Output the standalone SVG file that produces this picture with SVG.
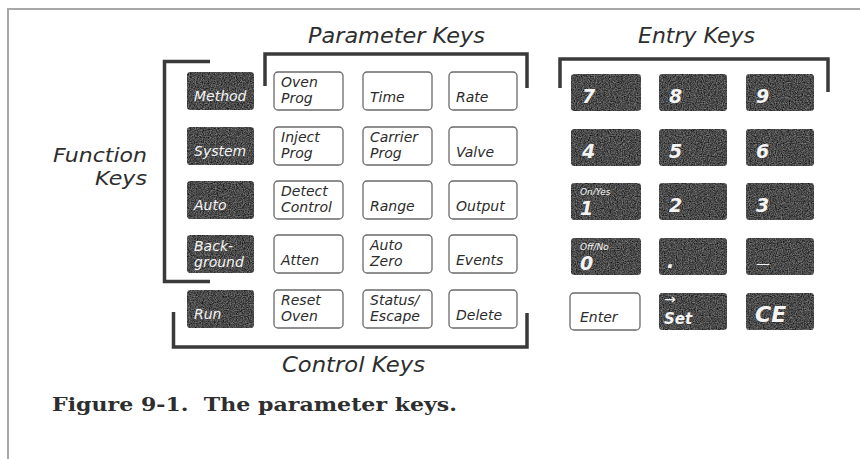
<svg xmlns="http://www.w3.org/2000/svg" width="860" height="459" viewBox="0 0 860 459">
<defs>
<filter id="grain" x="0" y="0" width="1" height="1" color-interpolation-filters="sRGB">
<feTurbulence type="fractalNoise" baseFrequency="0.85" numOctaves="3" seed="7" result="t"/>
<feColorMatrix in="t" type="matrix" values="0 0 0 1.3 -0.05  0 0 0 1.3 -0.05  0 0 0 1.3 -0.05  0 0 0 0 1" result="g"/>
<feBlend in="SourceGraphic" in2="g" mode="multiply" result="b"/>
<feComposite in="b" in2="SourceGraphic" operator="in"/>
</filter>
<style>
.dk{fill:#7c7c7c;filter:url(#grain)}
.lk{fill:#fff;stroke:#6a6a6a;stroke-width:1.3}
.kl{font-family:"DejaVu Sans",sans-serif;font-style:oblique;font-size:14px}
.w{fill:#f4f4f4}
.b{fill:#2b2b2b}
.dig{font-weight:bold;font-size:19px}
.sm{font-size:9px}
.big{font-weight:bold;font-size:22px}
.arr{font-size:14px}
.bold{font-weight:bold;font-size:15px}
.title{font-family:"DejaVu Sans",sans-serif;font-style:oblique;font-size:21.5px;fill:#2e2e2e}
.fk{font-size:20px}
.br{fill:none;stroke:#3a3a3a;stroke-width:3.5}
.frame{fill:none;stroke:#a8a8a8;stroke-width:2}
.cap{font-family:"DejaVu Serif",serif;font-weight:bold;font-size:18px;fill:#2e2e2e}
</style>
</defs>
<rect width="860" height="459" fill="#fff"/>
<path class="frame" d="M8,459 V9 H860"/>

<g id="titles">
<text class="title" x="308" y="43" textLength="177" lengthAdjust="spacingAndGlyphs">Parameter Keys</text>
<text class="title" x="638" y="43" textLength="117" lengthAdjust="spacingAndGlyphs">Entry Keys</text>
<text class="title fk" x="53" y="162" textLength="94" lengthAdjust="spacingAndGlyphs">Function</text>
<text class="title fk" x="95" y="185" textLength="52" lengthAdjust="spacingAndGlyphs">Keys</text>
<text class="title" x="282" y="372" textLength="143" lengthAdjust="spacingAndGlyphs">Control Keys</text>
</g>

<g id="connectors">
<path class="br" d="M210,61.5 H164.5 V281.5 H210"/>
<path class="br" d="M265,86 V54 H527 V88"/>
<path class="br" d="M560,88 V59 H828 V92"/>
<path class="br" d="M173.5,312 V347 H527 V313"/>
</g>

<g id="key-method"><rect class="dk" x="187" y="72" width="67" height="38" rx="3"/><text class="kl w" x="194" y="101">Method</text></g>
<g id="key-system"><rect class="dk" x="187" y="127" width="67" height="38" rx="3"/><text class="kl w" x="194" y="156">System</text></g>
<g id="key-auto"><rect class="dk" x="187" y="181" width="67" height="38" rx="3"/><text class="kl w" x="194" y="210">Auto</text></g>
<g id="key-background"><rect class="dk" x="187" y="235" width="67" height="38" rx="3"/><text class="kl w" x="194" y="250.5">Back-</text><text class="kl w" x="194" y="266.5">ground</text></g>
<g id="key-run"><rect class="dk" x="187" y="290" width="67" height="38" rx="3"/><text class="kl w" x="194" y="319">Run</text></g>

<g id="key-ovenprog"><rect class="lk" x="274" y="72" width="69" height="38" rx="4"/><text class="kl b" x="281" y="86.5">Oven</text><text class="kl b" x="281" y="102.5">Prog</text></g>
<g id="key-injectprog"><rect class="lk" x="274" y="127" width="69" height="38" rx="4"/><text class="kl b" x="281" y="141.5">Inject</text><text class="kl b" x="281" y="157.5">Prog</text></g>
<g id="key-detectcontrol"><rect class="lk" x="274" y="181" width="69" height="38" rx="4"/><text class="kl b" x="281" y="195.5">Detect</text><text class="kl b" x="281" y="211.5">Control</text></g>
<g id="key-atten"><rect class="lk" x="274" y="235" width="69" height="38" rx="4"/><text class="kl b" x="281" y="265">Atten</text></g>
<g id="key-resetoven"><rect class="lk" x="274" y="290" width="69" height="38" rx="4"/><text class="kl b" x="281" y="304.5">Reset</text><text class="kl b" x="281" y="320.5">Oven</text></g>

<g id="key-time"><rect class="lk" x="363" y="72" width="69" height="38" rx="4"/><text class="kl b" x="370" y="102">Time</text></g>
<g id="key-carrierprog"><rect class="lk" x="363" y="127" width="69" height="38" rx="4"/><text class="kl b" x="370" y="141.5">Carrier</text><text class="kl b" x="370" y="157.5">Prog</text></g>
<g id="key-range"><rect class="lk" x="363" y="181" width="69" height="38" rx="4"/><text class="kl b" x="370" y="211">Range</text></g>
<g id="key-autozero"><rect class="lk" x="363" y="235" width="69" height="38" rx="4"/><text class="kl b" x="370" y="249.5">Auto</text><text class="kl b" x="370" y="265.5">Zero</text></g>
<g id="key-statusescape"><rect class="lk" x="363" y="290" width="69" height="38" rx="4"/><text class="kl b" x="370" y="304.5">Status/</text><text class="kl b" x="370" y="320.5">Escape</text></g>

<g id="key-rate"><rect class="lk" x="449" y="72" width="68" height="38" rx="4"/><text class="kl b" x="456" y="102">Rate</text></g>
<g id="key-valve"><rect class="lk" x="449" y="127" width="68" height="38" rx="4"/><text class="kl b" x="456" y="157">Valve</text></g>
<g id="key-output"><rect class="lk" x="449" y="181" width="68" height="38" rx="4"/><text class="kl b" x="456" y="211">Output</text></g>
<g id="key-events"><rect class="lk" x="449" y="235" width="68" height="38" rx="4"/><text class="kl b" x="456" y="265">Events</text></g>
<g id="key-delete"><rect class="lk" x="449" y="290" width="68" height="38" rx="4"/><text class="kl b" x="456" y="320">Delete</text></g>

<g id="key-7"><rect class="dk" x="571" y="74" width="70" height="37" rx="3"/><text class="kl w dig" x="582" y="103">7</text></g>
<g id="key-8"><rect class="dk" x="659" y="74" width="68" height="37" rx="3"/><text class="kl w dig" x="669" y="103">8</text></g>
<g id="key-9"><rect class="dk" x="746" y="74" width="68" height="37" rx="3"/><text class="kl w dig" x="756" y="103">9</text></g>
<g id="key-4"><rect class="dk" x="571" y="129" width="70" height="37" rx="3"/><text class="kl w dig" x="582" y="158">4</text></g>
<g id="key-5"><rect class="dk" x="659" y="129" width="68" height="37" rx="3"/><text class="kl w dig" x="669" y="158">5</text></g>
<g id="key-6"><rect class="dk" x="746" y="129" width="68" height="37" rx="3"/><text class="kl w dig" x="756" y="158">6</text></g>
<g id="key-1"><rect class="dk" x="571" y="183" width="70" height="37" rx="3"/><text class="kl w sm" x="580" y="194.5">On/Yes</text><text class="kl w dig" x="580" y="215">1</text></g>
<g id="key-2"><rect class="dk" x="659" y="183" width="68" height="37" rx="3"/><text class="kl w dig" x="669" y="212">2</text></g>
<g id="key-3"><rect class="dk" x="746" y="183" width="68" height="37" rx="3"/><text class="kl w dig" x="756" y="212">3</text></g>
<g id="key-0"><rect class="dk" x="571" y="238" width="70" height="37" rx="3"/><text class="kl w sm" x="580" y="249.5">Off/No</text><text class="kl w dig" x="580" y="270">0</text></g>
<g id="key-dot"><rect class="dk" x="659" y="238" width="68" height="37" rx="3"/><text class="kl w dig" x="667" y="268">.</text></g>
<g id="key-minus"><rect class="dk" x="746" y="238" width="68" height="37" rx="3"/><text class="kl w" x="756" y="268">—</text></g>
<g id="key-enter"><rect class="lk" x="570" y="293" width="70" height="37" rx="4"/><text class="kl b" x="580" y="322">Enter</text></g>
<g id="key-set"><rect class="dk" x="659" y="293" width="68" height="37" rx="3"/><text class="kl w arr" x="664" y="304">→</text><text class="kl w bold" x="664" y="324">Set</text></g>
<g id="key-ce"><rect class="dk" x="746" y="293" width="68" height="37" rx="3"/><text class="kl w big" x="755" y="322">CE</text></g>

<text class="cap" x="52" y="411" xml:space="preserve" textLength="405" lengthAdjust="spacingAndGlyphs">Figure 9-1.  The parameter keys.</text>
</svg>
